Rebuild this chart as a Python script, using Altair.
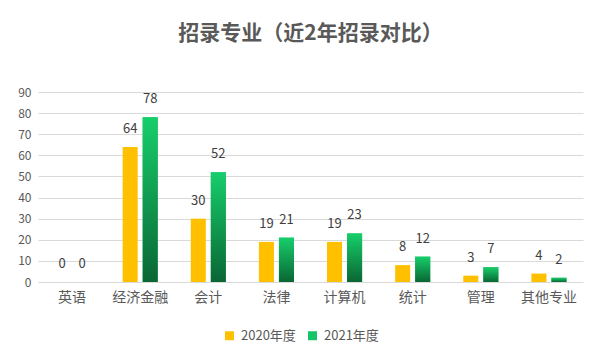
import altair as alt
import pandas as pd

categories = ["英语", "经济金融", "会计", "法律", "计算机", "统计", "管理", "其他专业"]
years = ["2020年度", "2021年度"]
values_2020 = [0, 64, 30, 19, 19, 8, 3, 4]
values_2021 = [0, 78, 52, 21, 23, 12, 7, 2]
y_ticks = [0, 10, 20, 30, 40, 50, 60, 70, 80, 90]

rows = []
for c, v in zip(categories, values_2020):
    rows.append({"cat": c, "year": years[0], "value": v})
for c, v in zip(categories, values_2021):
    rows.append({"cat": c, "year": years[1], "value": v})
df = pd.DataFrame(rows)

FONT = "Noto Sans CJK SC"
GRAY = "#595959"

x_enc = alt.X("cat:N", sort=categories, title=None,
              scale=alt.Scale(paddingInner=0.485, paddingOuter=0.2425),
              axis=alt.Axis(labelAngle=0, labelFontSize=14, labelColor=GRAY, labelFont=FONT,
                            domain=False, ticks=False, labelPadding=8, grid=False))
xo_enc = alt.XOffset("year:N", sort=years, scale=alt.Scale(paddingInner=0.25, paddingOuter=0))
y_enc = alt.Y("value:Q", title=None,
              scale=alt.Scale(domain=[0, 90], nice=False),
              axis=alt.Axis(values=y_ticks, labelFontSize=12, labelColor=GRAY, labelFont=FONT,
                            domain=False, ticks=False, labelPadding=7, grid=True,
                            gridColor="#D9D9D9", gridWidth=1))

base = alt.Chart(df)

bars = base.mark_bar().encode(
    x=x_enc, xOffset=xo_enc, y=y_enc,
    color=alt.Color("year:N", sort=years,
                    scale=alt.Scale(domain=years, range=["#FFC000", "#14C465"]),
                    legend=alt.Legend(orient="none", legendX=185, legendY=237,
                                      direction="horizontal", title=None,
                                      symbolType="square", symbolSize=81,
                                      symbolStrokeWidth=0,
                                      labelFontSize=13, labelColor=GRAY, labelFont=FONT,
                                      columnPadding=10, labelOffset=5)),
)

gradient = alt.LinearGradient(
    gradient="linear", x1=0, y1=0, x2=0, y2=1,
    stops=[alt.GradientStop(offset=0, color="#17CE6B"),
           alt.GradientStop(offset=1, color="#0A6634")],
)

green = base.transform_filter(alt.datum.year == years[1]).mark_bar(fill=gradient).encode(
    x=x_enc, xOffset=xo_enc, y=y_enc,
)

labels = base.mark_text(baseline="middle", dy=-18, fontSize=13, color="#404040", font=FONT).encode(
    x=x_enc, xOffset=xo_enc, y=y_enc, text=alt.Text("value:Q"),
)

chart = alt.layer(bars, green, labels).properties(
    width=545, height=190,
    background="white",
    title=alt.TitleParams("招录专业（近2年招录对比）", fontSize=21, font=FONT, fontWeight="bold",
                          color=GRAY, anchor="middle", offset=42),
    autosize=alt.AutoSizeParams(type="none"),
    padding={"left": 30, "top": 84, "right": 11, "bottom": 72},
).configure_view(stroke=None)

chart.save("out.html", embed_options={"renderer": "svg", "actions": False})
